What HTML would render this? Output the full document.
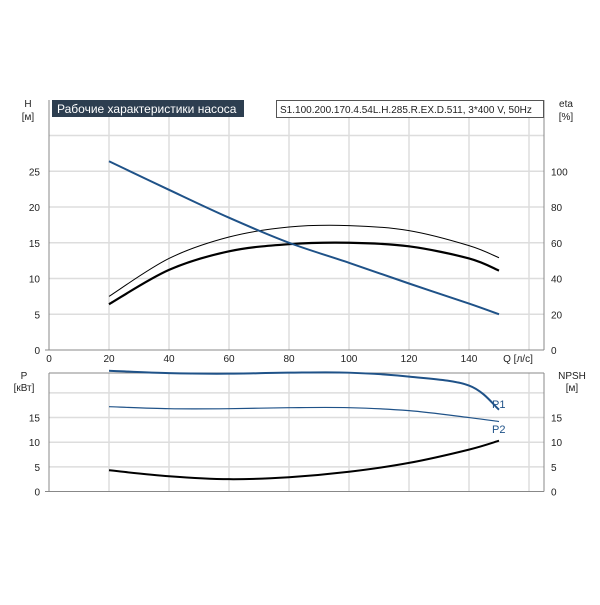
<!DOCTYPE html>
<html><head><meta charset="utf-8"><style>
body{margin:0;background:#fff}
svg text{font-family:"Liberation Sans","DejaVu Sans",sans-serif;font-size:10px;fill:#222}
</style></head><body>
<svg id="c" width="600" height="600" xmlns="http://www.w3.org/2000/svg"></svg>
<script>
const qCats=[20,40,60,80,100,120,140,150];
const headBlue=[26.4,22.4,18.5,15,12.2,9.3,6.5,5];
const etaThick=[6.4,11.2,13.8,14.8,15,14.5,12.8,11.1];
const etaThin=[7.5,12.8,15.8,17.2,17.4,16.7,14.6,12.9];
const p1=[24.5,24.0,23.9,24.1,24.1,23.3,21.5,16.6];
const p2=[17.2,16.8,16.8,17,17,16.4,15,14.2];
const npsh=[4.3,3.1,2.5,2.9,4,5.8,8.5,10.3];
const xTicks=[0,20,40,60,80,100,120,140];
const hTicks=[0,5,10,15,20,25];
const etaTicks=[0,20,40,60,80,100];
const pTicks=[0,5,10,15];
const NS="http://www.w3.org/2000/svg";
const svg=document.getElementById('c');
function el(t,a,txt){const e=document.createElementNS(NS,t);for(const k in a)e.setAttribute(k,a[k]);if(txt!==undefined)e.textContent=txt;svg.appendChild(e);return e;}
const X=q=>49+q*3.0;
const YT=h=>350-h*7.15;
const YB=p=>491.5-p*4.93;
const XR=544;
for(let q=20;q<=160;q+=20){
 const g=el('line',{x1:X(q),x2:X(q),y1:100,y2:350,stroke:'#ddd','stroke-width':1.5});
 
 const g2=el('line',{x1:X(q),x2:X(q),y1:373,y2:491.5,stroke:'#ddd','stroke-width':1.5});
 
}
[5,10,15,20,25,30].forEach(h=>{const g=el('line',{x1:49,x2:XR,y1:YT(h),y2:YT(h),stroke:'#ddd','stroke-width':1.5});});
[5,10,15,20].forEach(p=>{const g=el('line',{x1:49,x2:XR,y1:YB(p),y2:YB(p),stroke:'#ddd','stroke-width':1.5});});
[[49,100,49,350],[XR,100,XR,350],[45,350,XR,350],[49,373,49,491.5],[XR,373,XR,491.5],[45,491.5,XR,491.5],[49,373,XR,373]].forEach(a=>{const l=el('line',{x1:a[0],y1:a[1],x2:a[2],y2:a[3],stroke:'#888','stroke-width':1});});
xTicks.forEach(q=>{const t=el('text',{x:X(q),y:362,'text-anchor':'middle'},q);});
hTicks.forEach(h=>{const t=el('text',{x:40,y:YT(h)+4,'text-anchor':'end'},h);});
etaTicks.forEach(e=>{const t=el('text',{x:551,y:YT(e/4)+4},e);});
pTicks.forEach(p=>{const t=el('text',{x:40,y:YB(p)+4,'text-anchor':'end'},p);
 const t2=el('text',{x:551,y:YB(p)+4},p);});
function lbl(x,y,s,n,a){const t=el('text',{x:x,y:y,'text-anchor':a||'middle'},s);}
lbl(28,107,'H','h-axis-title');lbl(28,120,'[м]','h-axis-unit');
lbl(566,107,'eta','eta-axis-title');lbl(566,120,'[%]','eta-axis-unit');
lbl(518,362,'Q [л/с]','x-axis-title');
lbl(24,379,'P','p-axis-title');lbl(24,391,'[кВт]','p-axis-unit');
lbl(572,379,'NPSH','npsh-axis-title');lbl(572,391,'[м]','npsh-axis-unit');
let r=el('rect',{x:52,y:100,width:192,height:17,fill:'#2d3e50'});
let tt=el('text',{x:57,y:113,style:'fill:#fff;font-size:12px'},'Рабочие характеристики насоса');
r=el('rect',{x:276.5,y:100.5,width:267,height:17,fill:'#fff',stroke:'#555'});
tt=el('text',{x:280,y:113,style:'font-size:10px'},'S1.100.200.170.4.54L.H.285.R.EX.D.511, 3*400 V, 50Hz');
function path(vals,Y){
 const pts=qCats.map((q,i)=>[X(q),Y(vals[i])]);
 let d='M'+pts[0];
 for(let i=0;i<pts.length-1;i++){
  const p0=pts[Math.max(0,i-1)],p1_=pts[i],p2_=pts[i+1],p3=pts[Math.min(pts.length-1,i+2)];
  const c1=[p1_[0]+(p2_[0]-p0[0])/6,p1_[1]+(p2_[1]-p0[1])/6],c2=[p2_[0]-(p3[0]-p1_[0])/6,p2_[1]-(p3[1]-p1_[1])/6];
  d+=' C'+c1+' '+c2+' '+p2_;
 }
 return d;
}
function series(vals,Y,col,w,name){const p=el('path',{d:path(vals,Y),fill:'none',stroke:col,'stroke-width':w});}
series(etaThin,YT,'#000',1,'eta-thin-curve');
series(etaThick,YT,'#000',2.2,'eta-thick-curve');
series(headBlue,YT,'#1f5288',2,'head-curve');
series(p1,YB,'#1f5288',2,'p1-curve');
series(p2,YB,'#1f5288',1.2,'p2-curve');
series(npsh,YB,'#000',2,'npsh-curve');
let t=el('text',{x:492,y:408,style:'fill:#1f5288;font-size:11px'},'P1');
t=el('text',{x:492,y:433,style:'fill:#1f5288;font-size:11px'},'P2');
</script>
</body></html>
